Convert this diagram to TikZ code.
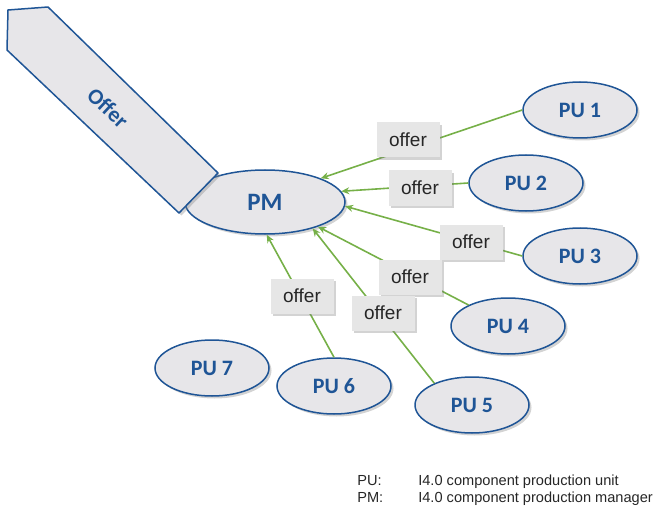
\documentclass[tikz,border=0pt]{standalone}
\usepackage{fontspec}
\setmainfont{Carlito}
\newfontfamily\arialfont{Liberation Sans}
\usetikzlibrary{shapes.geometric,shadows,arrows.meta}
\definecolor{pmblue}{RGB}{31,85,150}
\definecolor{pmfill}{RGB}{231,230,233}
\definecolor{offergreen}{RGB}{118,176,72}
\definecolor{boxfill}{RGB}{230,230,230}

\begin{document}
\begin{tikzpicture}[x=1pt,y=-1pt,semithick]
\tikzstyle{shade}=[drop shadow={opacity=0.35,shadow xshift=2.5pt,shadow yshift=-2.5pt}]
\tikzstyle{unit}=[ellipse,shade,minimum width=114pt,minimum height=56pt,inner sep=0pt,fill=pmfill,draw=pmblue,line width=1.5pt,text=pmblue,font=\bfseries\fontsize{22}{26}\selectfont]
\tikzstyle{manager}=[unit,minimum width=160pt,minimum height=64pt,font=\bfseries\fontsize{25}{30}\selectfont]
\tikzstyle{msg}=[shade,fill=boxfill,minimum width=63pt,minimum height=35pt,inner sep=0pt,text=black!85,font=\arialfont\fontsize{19}{22}\selectfont]
\tikzstyle{flow}=[draw=offergreen,line width=1.6pt,-{Stealth[length=8pt,width=7pt]}]
\tikzstyle{legend}=[anchor=base west,inner sep=0pt,text=black!85,font=\arialfont\fontsize{14.6}{17}\selectfont]
\useasboundingbox (0,0) rectangle (659,508);

\node[manager] (pm) at (265,202) {PM};
\draw[shade,fill=pmfill,draw=pmblue,line width=1.5pt,line join=round]
  (8,10) -- (48,7) -- (218,173) -- (179,213) -- (7,50) -- cycle;
\node[rotate=-43,text=pmblue,font=\bfseries\fontsize{22}{26}\selectfont] (offerlbl) at (108,108) {Offer};

\node[unit] (pu1) at (580,110) {PU 1};
\node[unit] (pu2) at (526,183) {PU 2};
\node[unit] (pu3) at (580,256) {PU 3};
\node[unit] (pu4) at (508,326) {PU 4};
\node[unit] (pu5) at (472,405) {PU 5};
\node[unit] (pu6) at (334,386) {PU 6};
\node[unit] (pu7) at (212,368) {PU 7};

\path (pu1.west) edge[flow] (pm.23);
\path (pu2.west) edge[flow] (pm.8);
\path (pu3.west) edge[flow] (pm.-3);
\path (pu4.152) edge[flow] (pm.-25);
\path (pu5.150) edge[flow] (pm.-29);
\path (pu6.north) edge[flow] (pm.-87);

\node[msg] (m1) at (408,140) {offer};
\node[msg] (m2) at (420,188) {offer};
\node[msg] (m3) at (471,242) {offer};
\node[msg] (m4) at (410,277) {offer};
\node[msg] (m5) at (383,313) {offer};
\node[msg] (m6) at (302,296) {offer};

\node[legend] (keypu) at (357,485) {PU:};
\node[legend] (descpu) at (418,485) {I4.0 component production unit};
\node[legend] (keypm) at (357,502) {PM:};
\node[legend] (descpm) at (418,502) {I4.0 component production manager};
\end{tikzpicture}
\end{document}
